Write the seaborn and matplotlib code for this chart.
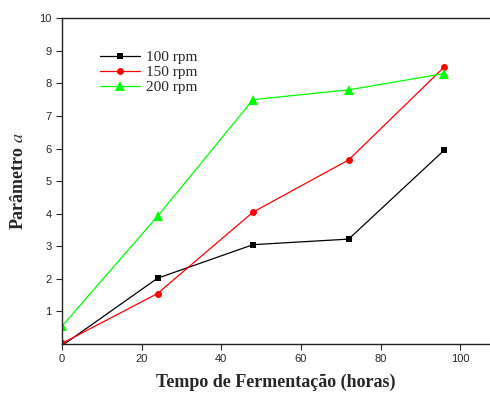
import matplotlib
matplotlib.use("Agg")
import matplotlib.pyplot as plt
import seaborn as sns
import pandas as pd

# Data
tempo = [0, 24, 48, 72, 96]
rpm_100 = [-0.05, 2.02, 3.05, 3.22, 5.95]
rpm_150 = [0.02, 1.55, 4.05, 5.65, 8.5]
rpm_200 = [0.55, 3.92, 7.5, 7.8, 8.3]
labels = ['100 rpm', '150 rpm', '200 rpm']

df = pd.DataFrame({
    'tempo': tempo * 3,
    'valor': rpm_100 + rpm_150 + rpm_200,
    'serie': [labels[0]] * 5 + [labels[1]] * 5 + [labels[2]] * 5,
})

sns.set_style("ticks")
plt.rcParams['font.family'] = ['Liberation Sans', 'DejaVu Sans']
plt.rcParams['mathtext.fontset'] = 'stix'

fig = plt.figure(figsize=(4.9, 3.95), dpi=100)
ax = fig.add_axes([0.1265, 0.129, 0.8735, 0.825])

palette = {labels[0]: '#000000', labels[1]: '#ff0000', labels[2]: '#00ff00'}
markers = {labels[0]: 's', labels[1]: 'o', labels[2]: '^'}
sizes = {labels[0]: 5, labels[1]: 5, labels[2]: 7}

for lab in labels:
    sub = df[df['serie'] == lab]
    sns.lineplot(data=sub, x='tempo', y='valor', ax=ax, color=palette[lab],
                 marker=markers[lab], markersize=sizes[lab], markeredgewidth=0,
                 linewidth=0.9, label=lab)

ax.set_xlim(0, 107.5)
ax.set_ylim(0, 10)
ax.set_xticks([0, 20, 40, 60, 80, 100])
ax.set_yticks(range(1, 11))
ax.tick_params(labelsize=8, length=4, width=0.8, direction='out')
for s in ['left', 'bottom', 'top']:
    ax.spines[s].set_linewidth(1.0)
    ax.spines[s].set_color('#222222')
ax.spines['right'].set_visible(False)

ax.set_xlabel('Tempo de Fermentação (horas)', family=['Liberation Serif'],
              fontsize=13, fontweight='bold', labelpad=7)
ax.set_ylabel('Parâmetro $\\mathit{a}$', family=['Liberation Serif'],
              fontsize=13, fontweight='bold', labelpad=9)

leg = ax.legend(loc='upper left', bbox_to_anchor=(0.075, 0.92), frameon=False,
                prop={'family': 'Liberation Serif', 'size': 11},
                handlelength=2.6, handletextpad=0.4, labelspacing=0.1,
                borderaxespad=0)

fig.savefig('out.png', dpi=100)
